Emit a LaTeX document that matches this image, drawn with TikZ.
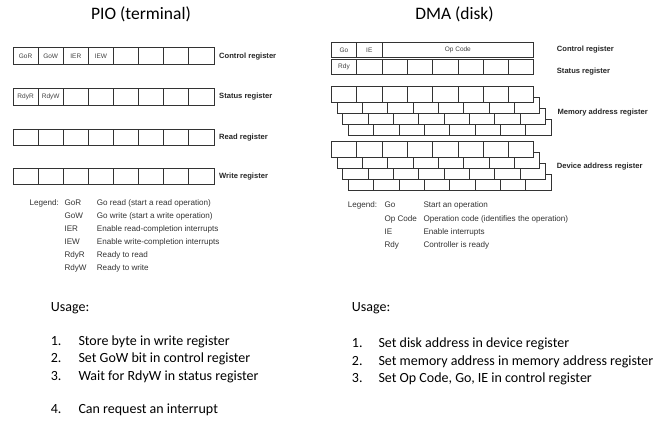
\documentclass[tikz,border=0pt]{standalone}
\usepackage{fontspec}
\setmainfont{Carlito}
\newfontfamily\hv{Liberation Sans}
\begin{document}
\begin{tikzpicture}[x=1pt,y=-1pt,
  pcell/.style={draw=black!80, line width=0.7pt, fill=white, minimum width=25.1pt, minimum height=16.4pt, inner sep=0pt, anchor=north west, font=\hv\fontsize{6.5}{7}\selectfont, text=black!75},
  dcell/.style={pcell, minimum width=25.3pt, minimum height=15pt},
  scell/.style={pcell, minimum width=25.3pt, minimum height=16.3pt},
  reglabel/.style={anchor=base west, inner sep=0pt, font=\hv\bfseries\fontsize{7.6}{9}\selectfont, text=black!85},
  leg/.style={anchor=base west, inner sep=0pt, font=\hv\fontsize{8.1}{9}\selectfont, text=black!80},
  title/.style={inner sep=0pt, font=\fontsize{17.5}{20}\selectfont},
  usage/.style={anchor=base west, inner sep=0pt, font=\fontsize{14}{16}\selectfont}]
\useasboundingbox (0,0) rectangle (659,421);

% Titles
\node[title] (t1) at (141,14) {PIO (terminal)};
\node[title] (t2) at (454.5,14) {DMA (disk)};

% PIO registers
\foreach \t [count=\i from 0] in {GoR,GoW,IER,IEW,{},{},{},{}}
  \node[pcell] (pc\i) at ({12.7+25.1*\i},47.3) {\t};
\foreach \t [count=\i from 0] in {RdyR,RdyW,{},{},{},{},{},{}}
  \node[pcell] (ps\i) at ({12.7+25.1*\i},88.3) {\t};
\foreach \i in {0,...,7}
  \node[pcell] (pr\i) at ({12.7+25.1*\i},128.7) {};
\foreach \i in {0,...,7}
  \node[pcell] (pw\i) at ({12.7+25.1*\i},168) {};

\node[reglabel] (lpc) at (219,58.4) {Control register};
\node[reglabel] (lps) at (219,98.6) {Status register};
\node[reglabel] (lpr) at (219,139.6) {Read register};
\node[reglabel] (lpw) at (219,178.6) {Write register};

% PIO legend
\node[leg] (plg) at (29.3,205.2) {Legend:};
\foreach \c/\d [count=\i from 0] in {GoR/Go read (start a read operation),GoW/Go write (start a write operation),IER/Enable read-completion interrupts,IEW/Enable write-completion interrupts,RdyR/Ready to read,RdyW/Ready to write}{
  \node[leg] (pk\i) at (64.3,{205.2+13.14*\i}) {\c};
  \node[leg] (pd\i) at (96.7,{205.2+13.14*\i}) {\d};
}

% DMA control and status
\node[dcell] (dgo) at (331,42.3) {Go};
\node[dcell] (die) at (356.3,42.3) {IE};
\node[dcell, minimum width=151.8pt] (dop) at (381.6,42.3) {Op Code};
\foreach \t [count=\i from 0] in {Rdy,{},{},{},{},{},{},{}}
  \node[dcell] (ds\i) at ({331+25.3*\i},59.3) {\t};

% Memory address register stack
\foreach \k in {3,2,1,0}
  \foreach \i in {0,...,7}
    \node[scell] (m\k\i) at ({331+5.7*\k+25.3*\i},{86+11*\k}) {};
% Device address register stack
\foreach \k in {3,2,1,0}
  \foreach \i in {0,...,7}
    \node[scell] (v\k\i) at ({331+5.7*\k+25.3*\i},{141+11*\k}) {};

\node[reglabel] (ldc) at (556.7,51.7) {Control register};
\node[reglabel] (lds) at (556.7,73.7) {Status register};
\node[reglabel] (ldm) at (557.3,114.2) {Memory address register};
\node[reglabel] (ldv) at (556.7,168.7) {Device address register};

% DMA legend
\node[leg] (dlg) at (347.7,207.9) {Legend:};
\foreach \c/\d [count=\i from 0] in {Go/Start an operation,Op Code/Operation code (identifies the operation),IE/Enable interrupts,Rdy/Controller is ready}{
  \node[leg] (dk\i) at (384.3,{207.9+13.3*\i}) {\c};
  \node[leg] (dd\i) at (423.3,{207.9+13.3*\i}) {\d};
}

% PIO usage
\node[usage] (pu) at (50.7,311.2) {Usage:};
\foreach \n/\y/\s in {1./345.5/Store byte in write register,2./362.2/Set GoW bit in control register,3./380.2/Wait for RdyW in status register,4./413.8/Can request an interrupt}{
  \node[usage] at (50.7,\y) {\n};
  \node[usage] at (78.3,\y) {\s};
}

% DMA usage
\node[usage] (du) at (351.7,311.8) {Usage:};
\foreach \n/\y/\s in {1./347.8/Set disk address in device register,2./365.2/Set memory address in memory address register,3./382.8/{Set Op Code, Go, IE in control register}}{
  \node[usage] at (351.7,\y) {\n};
  \node[usage] at (378.3,\y) {\s};
}
\end{tikzpicture}
\end{document}
